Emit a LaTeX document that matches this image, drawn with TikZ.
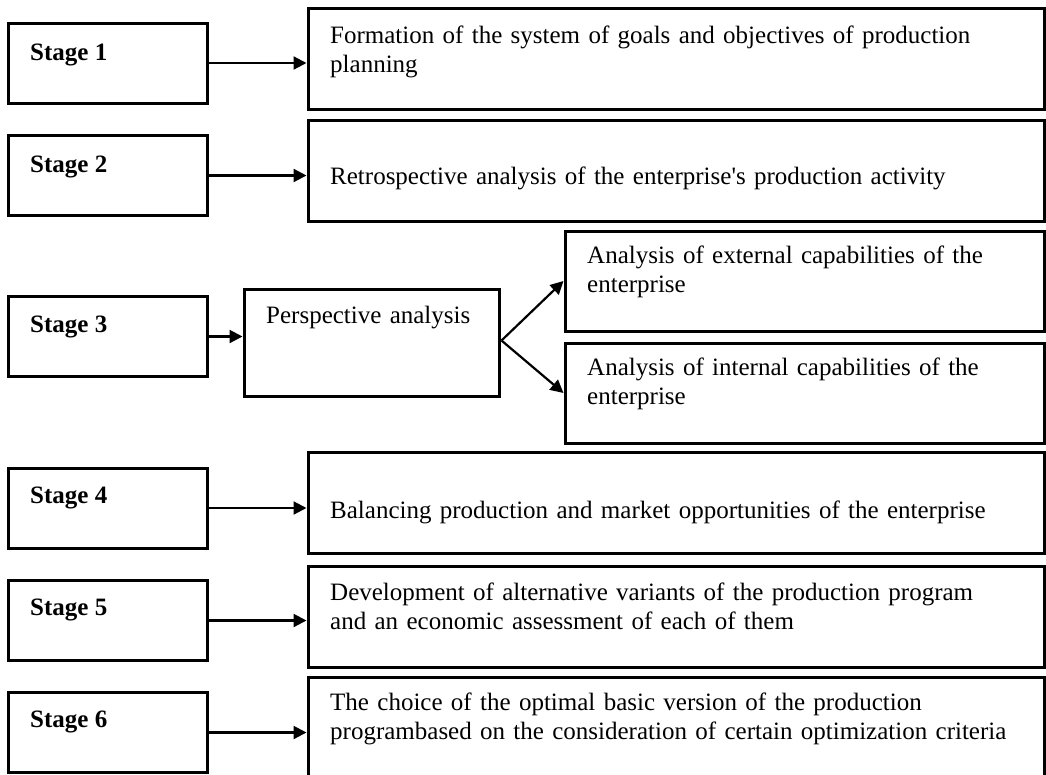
\documentclass[tikz,border=0pt]{standalone}
\usepackage{fontspec}
\setmainfont{Liberation Serif}
\usetikzlibrary{arrows.meta}
\newcommand{\straightq}{\XeTeXglyph\XeTeXcharglyph"0027\relax}
\tikzset{
  box/.style={draw=black, line width=3pt, inner sep=0pt, fill=white},
  txt/.style={inner sep=0pt, anchor=base west, align=left, text width=700pt,
              font=\fontsize{25}{29}\selectfont},
  stagetxt/.style={inner sep=0pt, anchor=base west,
              font=\fontsize{25}{29}\selectfont\bfseries},
  arr/.style={line width=2.2pt, -{Triangle[length=13pt,width=13pt]}}
}
\begin{document}
\begin{tikzpicture}[x=1pt,y=-1pt]
\clip (0,0) rectangle (1046,774);
\fill[white] (0,0) rectangle (1046,774);
% stage boxes
\node[box, minimum width=199pt, minimum height=80pt] (s1) at (107.5,63) {};
\node[box, minimum width=199pt, minimum height=80pt] (s2) at (107.5,175.5) {};
\node[box, minimum width=199pt, minimum height=80pt] (s3) at (107.5,336.5) {};
\node[box, minimum width=199pt, minimum height=80pt] (s4) at (107.5,508) {};
\node[box, minimum width=199pt, minimum height=80pt] (s5) at (107.5,620.5) {};
\node[box, minimum width=199pt, minimum height=80pt] (s6) at (107.5,732.5) {};
\node[stagetxt] (t1) at (30,60) {Stage 1};
\node[stagetxt] (t2) at (30,172) {Stage 2};
\node[stagetxt] (t3) at (30,332) {Stage 3};
\node[stagetxt] (t4) at (30,503) {Stage 4};
\node[stagetxt] (t5) at (30,615) {Stage 5};
\node[stagetxt] (t6) at (30,727) {Stage 6};
% right boxes
\node[box, minimum width=736pt, minimum height=101pt] (b1) at (676,58.5) {};
\node[box, minimum width=736pt, minimum height=101pt] (b2) at (676,171) {};
\node[box, minimum width=736pt, minimum height=101pt] (b4) at (676,503) {};
\node[box, minimum width=736pt, minimum height=101pt] (b5) at (676,616.5) {};
\node[box, minimum width=736pt, minimum height=104pt] (b6) at (676,729) {};
\node[box, minimum width=255pt, minimum height=107pt] (pa) at (371.5,342.5) {};
\node[box, minimum width=479pt, minimum height=100pt] (ext) at (804.5,281) {};
\node[box, minimum width=479pt, minimum height=100pt] (int) at (804.5,393) {};
% texts
\node[txt] (x1) at (330,43) {Formation of the system of goals and objectives of production\\planning};
\node[txt] (x2) at (330,184) {Retrospective analysis of the enterprise\straightq s production activity};
\node[txt] (x4) at (330,518) {Balancing production and market opportunities of the enterprise};
\node[txt] (x5) at (330,600) {Development of alternative variants of the production program\\and an economic assessment of each of them};
\node[txt] (x6) at (330,710) {The choice of the optimal basic version of the production\\programbased on the consideration of certain optimization criteria};
\node[txt, text width=300pt] (xp) at (266,323) {Perspective analysis};
\node[txt, text width=450pt] (xe) at (587,263) {Analysis of external capabilities of the\\enterprise};
\node[txt, text width=450pt] (xi) at (587,375) {Analysis of internal capabilities of the\\enterprise};
% connectors
\draw[arr] (s1.east) -- (b1.west |- s1.east);
\draw[arr] (s2.east) -- (b2.west |- s2.east);
\draw[arr] (s3.east) -- (pa.west |- s3.east);
\draw[arr] (s4.east) -- (b4.west |- s4.east);
\draw[arr] (s5.east) -- (b5.west |- s5.east);
\draw[arr] (s6.east) -- (b6.west |- s6.east);
\coordinate (br) at ([xshift=1pt,yshift=2pt]pa.east);
\draw[arr] (br) -- (ext.west);
\draw[arr] (br) -- (int.west);
\end{tikzpicture}
\end{document}
